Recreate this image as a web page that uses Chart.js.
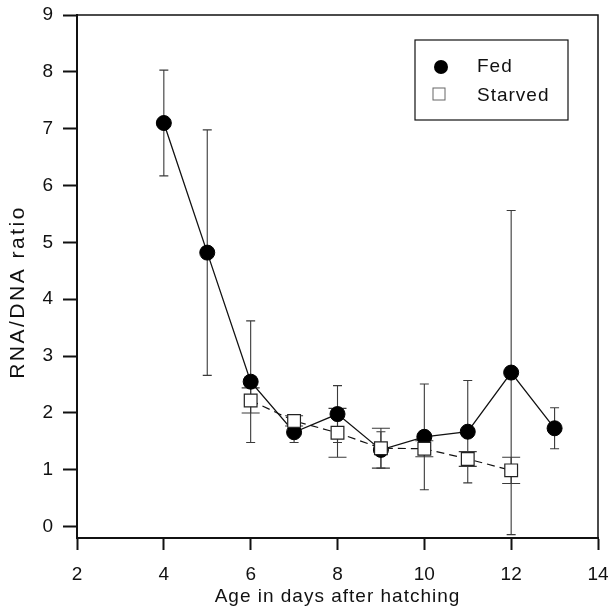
<!DOCTYPE html>
<html>
<head>
<meta charset="utf-8">
<script src="https://cdn.jsdelivr.net/npm/chart.js@4"></script>
<style>
  html, body { margin: 0; padding: 0; background: #fff; }
  #wrap { width: 610px; height: 608px; }
</style>
</head>
<body>
<div id="wrap"><canvas id="myChart" width="610" height="608"></canvas></div>
<script>
const fedDays = [4, 5, 6, 7, 8, 9, 10, 11, 12, 13];
const fedMean = [7.1, 4.82, 2.55, 1.66, 1.98, 1.35, 1.58, 1.67, 2.71, 1.73];
const fedErr = [0.93, 2.16, 1.07, 0.18, 0.5, 0.32, 0.93, 0.9, 2.85, 0.36];

const starvedDays = [6, 7, 8, 9, 10, 11, 12];
const starvedMean = [2.22, 1.86, 1.65, 1.38, 1.37, 1.19, 0.99];
const starvedErr = [0.22, 0.09, 0.43, 0.35, 0.14, 0.13, 0.23];

const xTicks = [2, 4, 6, 8, 10, 12, 14];
const yTicks = [0, 1, 2, 3, 4, 5, 6, 7, 8, 9];

const xTitle = "Age in days after hatching";
const yTitle = "RNA/DNA ratio";
const legendLabels = ["Fed", "Starved"];

const FONT = "'Liberation Sans', Arial, sans-serif";

const toPoints = (xs, ys, errs) => xs.map((x, i) => ({ x: x, y: ys[i], err: errs[i] }));

// error bars, drawn under the markers
const errorBars = {
    id: "errorBars",
    beforeDatasetsDraw(chart) {
        const ctx = chart.ctx;
        const xs = chart.scales.x;
        const ys = chart.scales.y;
        chart.data.datasets.forEach(ds => {
            ctx.save();
            ctx.strokeStyle = "#3a3a3a";
            ctx.lineWidth = 1.1;
            ds.data.forEach(p => {
                const px = xs.getPixelForValue(p.x);
                const top = ys.getPixelForValue(p.y + p.err);
                const bot = ys.getPixelForValue(p.y - p.err);
                const w = ds.capWidth;
                ctx.beginPath();
                ctx.moveTo(px, top);
                ctx.lineTo(px, bot);
                ctx.moveTo(px - w, top);
                ctx.lineTo(px + w, top);
                ctx.moveTo(px - w, bot);
                ctx.lineTo(px + w, bot);
                ctx.stroke();
            });
            ctx.restore();
        });
    },
};

// frame, axis titles and the boxed legend
const frameAndLegend = {
    id: "frameAndLegend",
    afterDraw(chart) {
        const ctx = chart.ctx;
        const a = chart.chartArea;
        ctx.save();
        ctx.strokeStyle = "#111";
        ctx.lineWidth = 1.5;
        ctx.beginPath();
        ctx.moveTo(a.left, a.top);
        ctx.lineTo(a.right, a.top);
        ctx.lineTo(a.right, a.bottom);
        ctx.stroke();

        // axis titles
        ctx.fillStyle = "#111";
        ctx.textAlign = "center";
        ctx.textBaseline = "middle";
        ctx.font = "19px " + FONT;
        ctx.letterSpacing = "1px";
        ctx.fillText(xTitle, (a.left + a.right) / 2, 597);
        ctx.save();
        ctx.translate(18, a.top + 277);
        ctx.rotate(-Math.PI / 2);
        ctx.font = "21px " + FONT;
        ctx.letterSpacing = "2.5px";
        ctx.fillText(yTitle, 0, 0);
        ctx.restore();

        // legend box
        const bx = a.right - 183, by = a.top + 25, bw = 153, bh = 80;
        ctx.lineWidth = 1.2;
        ctx.strokeStyle = "#111";
        ctx.strokeRect(bx, by, bw, bh);
        ctx.fillStyle = "#000";
        ctx.beginPath();
        ctx.arc(bx + 26, by + 27, 7, 0, Math.PI * 2);
        ctx.fill();
        ctx.fillStyle = "#fff";
        ctx.strokeStyle = "#666";
        ctx.lineWidth = 1;
        ctx.fillRect(bx + 18, by + 48, 12, 12);
        ctx.strokeRect(bx + 18, by + 48, 12, 12);
        ctx.fillStyle = "#111";
        ctx.font = "19px " + FONT;
        ctx.letterSpacing = "1px";
        ctx.textAlign = "left";
        ctx.fillText(legendLabels[0], bx + 62, by + 27);
        ctx.fillText(legendLabels[1], bx + 62, by + 56);
        ctx.restore();
    },
};

const ctx = document.getElementById("myChart").getContext("2d");
const chart = new Chart(ctx, {
    type: "line",
    data: {
        datasets: [
            {
                label: legendLabels[0],
                data: toPoints(fedDays, fedMean, fedErr),
                borderColor: "#111",
                borderWidth: 1.3,
                pointStyle: "circle",
                pointRadius: 7.5,
                pointBackgroundColor: "#000",
                pointBorderColor: "#000",
                pointBorderWidth: 1,
                capWidth: 4.5,
                order: 2,
            },
            {
                label: legendLabels[1],
                data: toPoints(starvedDays, starvedMean, starvedErr),
                borderColor: "#111",
                borderWidth: 1.2,
                borderDash: [8, 5],
                pointStyle: "rect",
                pointRadius: 9,
                pointBackgroundColor: "#fff",
                pointBorderColor: "#222",
                pointBorderWidth: 1.2,
                capWidth: 9,
                order: 1,
            },
        ],
    },
    options: {
        responsive: false,
        animation: false,
        layout: { padding: { top: 15, right: 12, left: 0, bottom: 0 } },
        plugins: {
            legend: { display: false },
            tooltip: { enabled: false },
        },
        scales: {
            x: {
                type: "linear",
                min: 2,
                max: 14,
                afterBuildTicks: s => { s.ticks = xTicks.map(v => ({ value: v })); },
                afterFit: s => { s.height = 70; s.paddingLeft = 0; s.paddingRight = 0; },
                border: { color: "#111", width: 2 },
                grid: { drawOnChartArea: false, drawTicks: true, tickLength: 12, tickWidth: 2, tickColor: "#111" },
                ticks: { color: "#111", font: { family: FONT, size: 19 }, padding: 13 },
            },
            y: {
                type: "linear",
                min: -0.2,
                max: 9,
                afterBuildTicks: s => { s.ticks = yTicks.map(v => ({ value: v })); },
                afterFit: s => { s.width = 77; s.paddingTop = 0; s.paddingBottom = 0; },
                border: { color: "#111", width: 2 },
                grid: { drawOnChartArea: false, drawTicks: true, tickLength: 14, tickWidth: 2, tickColor: "#111" },
                ticks: { color: "#111", font: { family: FONT, size: 19 }, padding: 10 },
            },
        },
    },
    plugins: [errorBars, frameAndLegend],
});
</script>
</body>
</html>
